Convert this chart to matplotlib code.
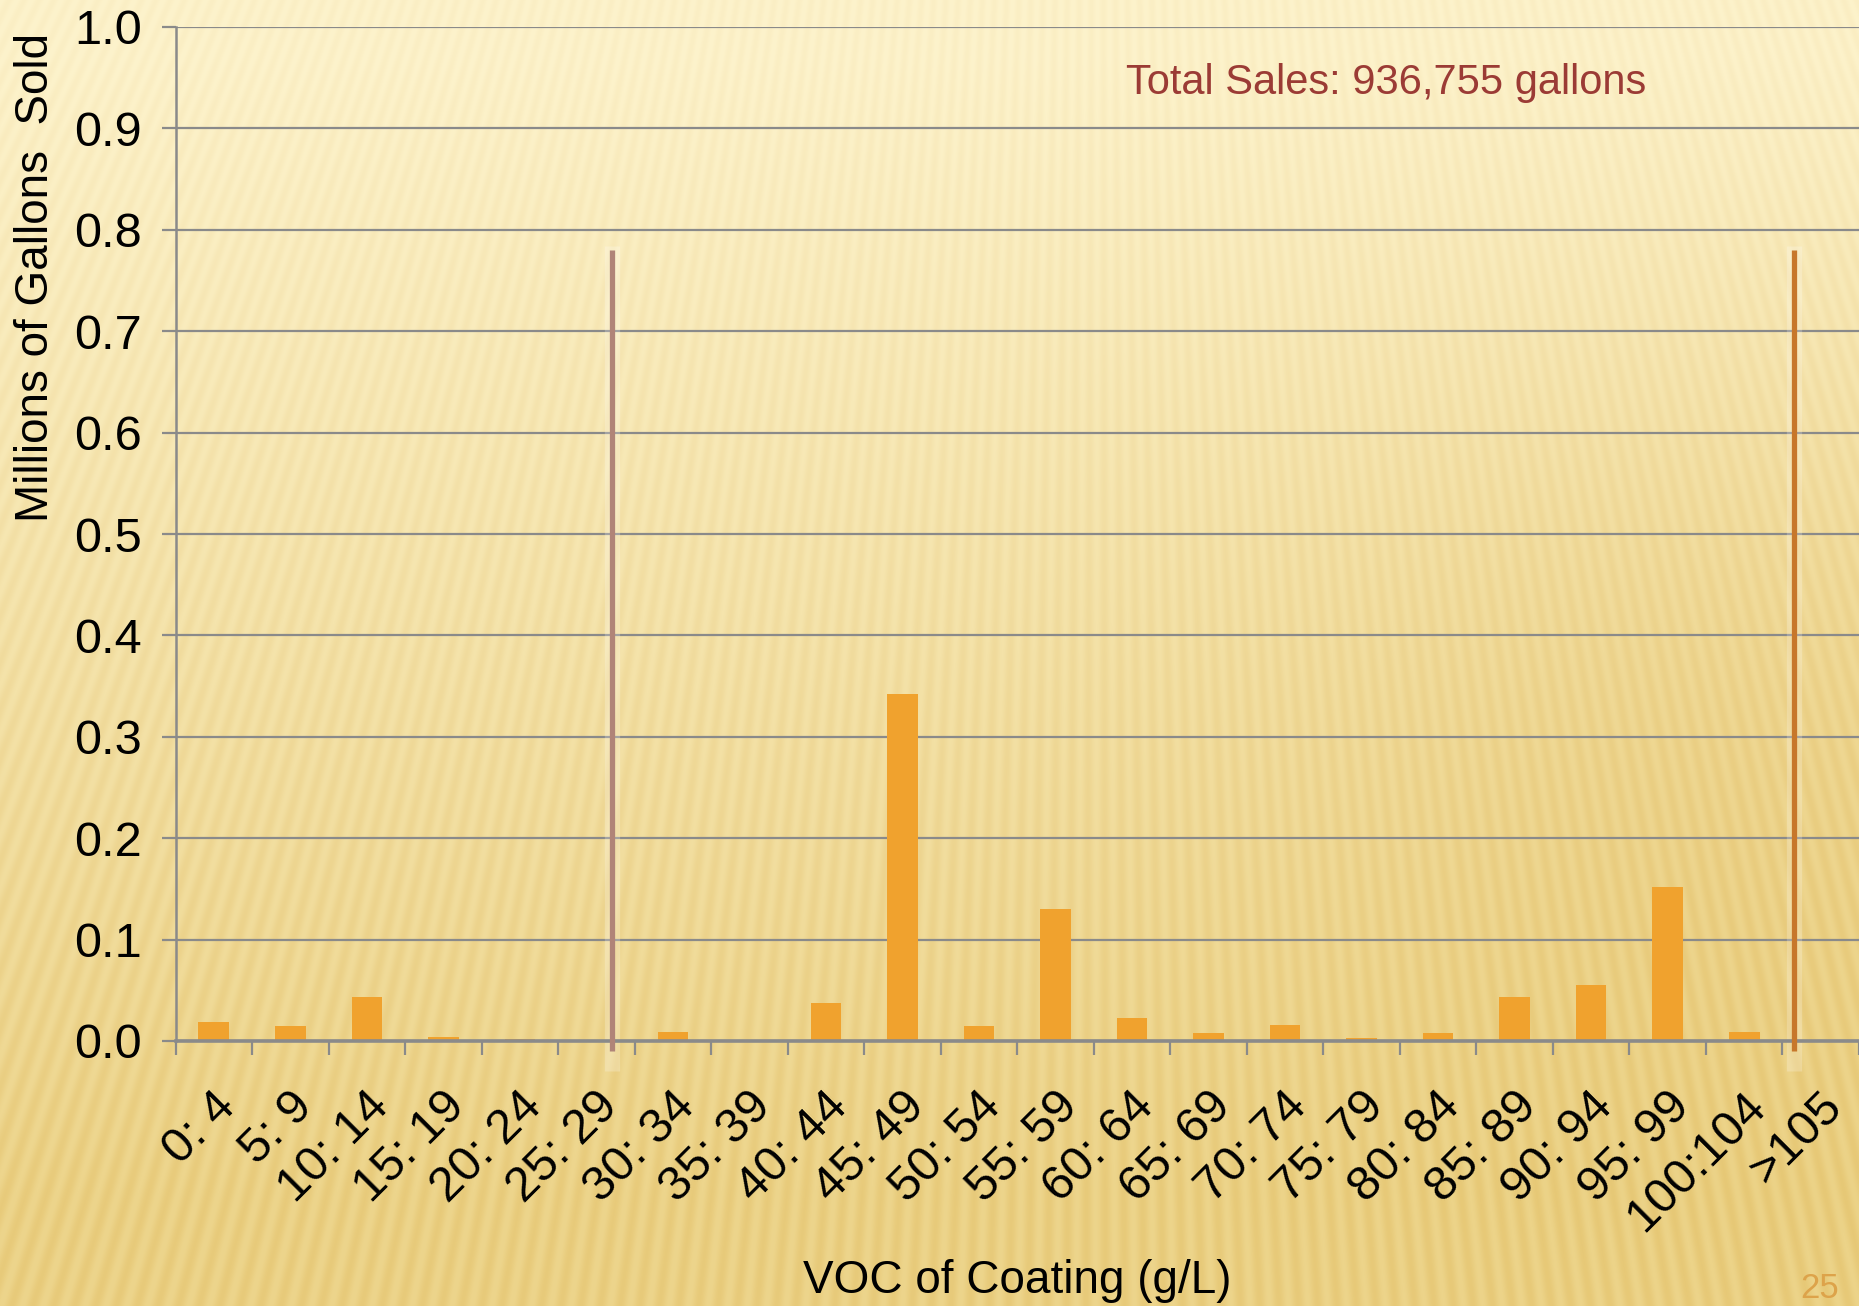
import numpy as np
import matplotlib
matplotlib.use("Agg")
import matplotlib.pyplot as plt
from matplotlib.transforms import ScaledTranslation

# ---------------- data ----------------
categories = ['0: 4', '5: 9', '10: 14', '15: 19', '20: 24', '25: 29', '30: 34',
              '35: 39', '40: 44', '45: 49', '50: 54', '55: 59', '60: 64', '65: 69',
              '70: 74', '75: 79', '80: 84', '85: 89', '90: 94', '95: 99',
              '100:104', '>105']
sales_millions = [0.019, 0.015, 0.043, 0.004, 0.002, 0.001, 0.009, 0.0, 0.037,
                  0.342, 0.015, 0.130, 0.023, 0.008, 0.016, 0.003, 0.008, 0.043,
                  0.055, 0.152, 0.009, 0.001]
y_ticks = [0.0, 0.1, 0.2, 0.3, 0.4, 0.5, 0.6, 0.7, 0.8, 0.9, 1.0]
y_tick_labels = ['0.0', '0.1', '0.2', '0.3', '0.4', '0.5', '0.6', '0.7', '0.8', '0.9', '1.0']
marker_x = [5.2, 20.65]
marker_top = 0.78
marker_colors = ['#B08478', '#C7772B']
total_label = 'Total Sales: 936,755 gallons'
x_label = 'VOC of Coating (g/L)'
y_label = 'Millions of Gallons  Sold'
page_number = '25'

plt.rcParams['font.family'] = ['Liberation Sans', 'DejaVu Sans']

W, H = 1859, 1306
fig = plt.figure(figsize=(W / 100, H / 100), dpi=100)

# ---------------- background (decorative) ----------------
yy, xx = np.mgrid[0:H, 0:W].astype(float)
cx, cy = 1100.0, -2200.0
ang = np.arctan2(xx - cx, yy - cy)
stripe = 0.5 + 0.5 * np.sin(ang * 2 * np.pi / 0.0055)
t = yy / H
top = np.array([253, 243, 204]) / 255.0
bot = np.array([237, 213, 140]) / 255.0
tt = np.clip(t * 1.15 - 0.05, 0, 1)
base = top[None, None, :] * (1 - tt[..., None]) + bot[None, None, :] * tt[..., None]
# darker tan region on the right-middle
blob = np.exp(-(((xx - 1750) / 500.0) ** 2 + ((yy - 700) / 420.0) ** 2))
base = base - blob[..., None] * np.array([0.02, 0.04, 0.08])[None, None, :]
amp = 0.03 + 0.04 * t
shade = np.array([0.3, 0.6, 1.0])
img = base - (amp * stripe)[..., None] * shade[None, None, :]
img = np.clip(img, 0, 1)
bg = fig.add_axes([0, 0, 1, 1], zorder=-10)
bg.imshow(img, aspect='auto', extent=[0, 1, 0, 1], interpolation='bilinear')
bg.set_axis_off()

# ---------------- main axes ----------------
left = 175.5 / W
bottom = (H - 1041) / H
height = (1041 - 27) / H
ax = fig.add_axes([left, bottom, 1 - left, height])
ax.patch.set_alpha(0)

x = np.arange(len(categories))
ax.bar(x, sales_millions, width=0.4, color='#F0A22E', zorder=3)

ax.set_xlim(-0.5, len(categories) - 0.5)
ax.set_ylim(0, 1.0)

grid_col = '#8A8A8A'
ax.set_yticks(y_ticks)
ax.set_yticklabels(y_tick_labels)
ax.yaxis.grid(True, color=grid_col, linewidth=1.6, zorder=0)
ax.set_axisbelow(True)
ax.tick_params(axis='y', direction='out', length=10, width=1.6, color=grid_col,
               labelsize=35, pad=14, labelcolor='black')

# major x ticks at bin edges (marks), minor at centres (labels)
ax.set_xticks(np.arange(len(categories) + 1) - 0.5)
ax.set_xticklabels([])
ax.tick_params(axis='x', which='major', direction='out', length=10, width=1.6, color=grid_col)
ax.set_xticks(x, minor=True)
ax.set_xticklabels(categories, minor=True, rotation=45, ha='right', va='center',
                   rotation_mode='anchor', fontsize=35)
ax.tick_params(axis='x', which='minor', length=0, pad=42)
offset = ScaledTranslation(15 / 100, 0, fig.dpi_scale_trans)
for lab in ax.get_xticklabels(minor=True):
    lab.set_transform(lab.get_transform() + offset)

for side in ['top', 'right']:
    ax.spines[side].set_visible(False)
ax.spines['left'].set_color(grid_col)
ax.spines['left'].set_linewidth(1.8)
ax.spines['bottom'].set_color(grid_col)
ax.spines['bottom'].set_linewidth(2.6)
ax.spines['bottom'].set_zorder(4)

# vertical marker lines
for mx, mc in zip(marker_x, marker_colors):
    ax.plot([mx, mx], [-0.03, marker_top + 0.004], color='white', alpha=0.22, linewidth=11,
            solid_capstyle='butt', zorder=4, clip_on=False)
    ax.plot([mx, mx], [-0.01, marker_top], color=mc, linewidth=3.8,
            solid_capstyle='butt', zorder=5, clip_on=False)

# labels
ax.set_xlabel(x_label, fontsize=33)
ax.xaxis.label.set_va('baseline')
ax.xaxis.set_label_coords(0.5, (13 - 265) / 1014)

ax.set_ylabel(y_label, fontsize=33)
ax.yaxis.label.set_va('center')
ax.yaxis.set_label_coords((36 - 175.5) / (W - 175.5), (1041 - 277) / 1014)

fig.text(1126 / W, 1 - 83 / H, total_label, fontsize=30, color='#9B3B35',
         ha='left', va='center')
fig.text(1820 / W, 1 - 1298 / H, page_number, fontsize=25, color='#DDA34A',
         ha='center', va='baseline')

fig.savefig('out.png', dpi=100)
